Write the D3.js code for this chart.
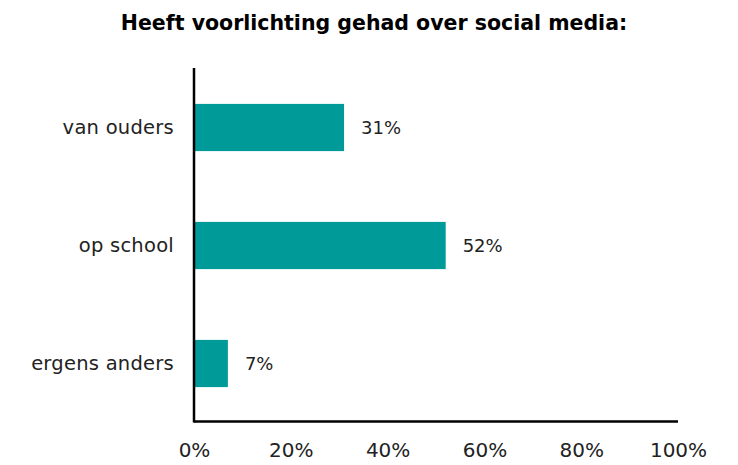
<!DOCTYPE html>
<html><head><meta charset="utf-8">
<script src="https://cdn.jsdelivr.net/npm/d3@7"></script>
<style>body{margin:0;background:#fff}svg{display:block}text{font-family:"DejaVu Sans",sans-serif}</style>
</head><body>
<script>
const categories = ["van ouders", "op school", "ergens anders"];
const values = [31, 52, 7];
const tickValues = [0, 20, 40, 60, 80, 100];
const title = "Heeft voorlichting gehad over social media:";

const W = 738, H = 465;
const svg = d3.select("body").append("svg").attr("width", W).attr("height", H);
const x = d3.scaleLinear().domain([0, 100]).range([194, 678]);
const y = d3.scaleBand().domain(categories).range([68.5, 422.5]).paddingInner(0.6).paddingOuter(0.3);

svg.append("text").attr("x", 374).attr("y", 30).attr("text-anchor", "middle")
  .attr("font-weight", "bold").attr("font-size", 20.5).attr("fill", "#000").text(title);

svg.selectAll("rect.bar").data(values).join("rect").attr("class", "bar")
  .attr("x", x(0) + 1).attr("y", (d, i) => y(categories[i]))
  .attr("width", d => x(d) - x(0) - 1).attr("height", y.bandwidth())
  .attr("fill", "#009a98");

svg.selectAll("text.val").data(values).join("text").attr("class", "val")
  .attr("x", d => x(d) + 17).attr("y", (d, i) => y(categories[i]) + y.bandwidth() / 2)
  .attr("dy", "0.35em").attr("font-size", 18).attr("fill", "#222").text(d => d + "%");

const xAxis = svg.append("g").attr("transform", "translate(0,421.5)")
  .call(d3.axisBottom(x).tickValues(tickValues).tickSize(0).tickPadding(21).tickFormat(d => d + "%"));
xAxis.select(".domain").attr("stroke", "#000").attr("stroke-width", 2.5).attr("d", `M${x(0)},0H${x(100)}`);
xAxis.selectAll("text").attr("font-size", 20).attr("fill", "#222").attr("font-family", "DejaVu Sans");

const yAxis = svg.append("g").attr("transform", `translate(${x(0)},0)`)
  .call(d3.axisLeft(y).tickSize(0).tickPadding(20));
yAxis.select(".domain").attr("stroke", "#000").attr("stroke-width", 2.5).attr("d", "M0,68V422.5");
yAxis.selectAll("text").attr("font-size", 19.5).attr("letter-spacing", 0.25).attr("fill", "#222").attr("font-family", "DejaVu Sans");
</script>
</body></html>
